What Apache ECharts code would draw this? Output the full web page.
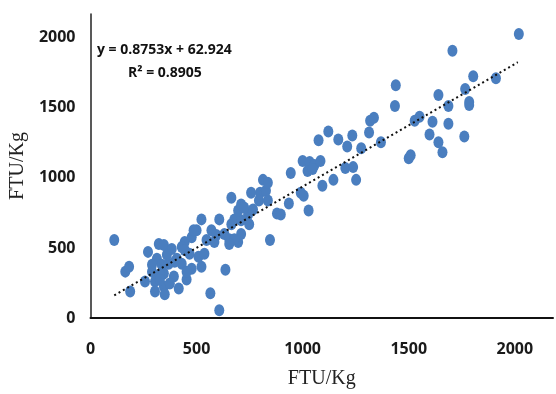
<!DOCTYPE html>
<html>
<head>
<meta charset="utf-8">
<script src="https://cdn.jsdelivr.net/npm/echarts@6/dist/echarts.min.js"></script>
<style>html,body{margin:0;padding:0;background:#fff;}#c{width:556px;height:394px;}</style>
</head>
<body>
<div id="c"></div>
<script>
// Observed points [x FTU/Kg, y FTU/Kg]
const pointsX = [112,164,182,187,271,322,346,383,313,336,369,290,257,304,346,393,304,346,350,416,430,444,477,467,509,477,523,500,523,407,327,374,453,430,290,360,
547,444,397,327,453,664,696,710,486,
570,593,584,607,631,654,678,654,664,678,710,748,537,636,565,607,696,743,766,664,710,724,757,799,827,813,836,794,836,846,879,897,935,991,1005,1028,
944,1000,1033,1056,1084,1023,1047,1201,1238,1252,1145,1093,1121,1075,1168,1234,1210,1276,1313,1318,1336,1369,1439,1435,1528,1551,1612,1687,1598,1640,1659,1762,1500,1509,1640,1687,1766,1785,1785,1804,1911,1706,2019];
const pointsY = [556,331,366,190,472,528,521,493,423,380,387,331,261,261,317,296,190,225,169,211,387,542,577,458,437,352,366,627,704,423,310,246,275,507,380,451,
556,486,401,275,331,556,542,599,627,
627,592,542,704,599,563,563,528,669,704,697,669,458,345,176,56,768,739,775,859,810,789,894,894,908,986,965,838,838,556,746,739,817,894,873,768,
1035,1120,1113,1092,1120,1049,1063,1070,1077,986,986,944,1331,1268,1275,1303,1225,1211,1324,1408,1430,1254,1662,1514,1408,1437,1401,1387,1310,1254,1183,1296,1141,1162,1592,1514,1634,1542,1521,1725,1711,1908,2028];
const slope = 0.8753, intercept = 62.924, r2 = 0.8905;
const trendStartX = 112, trendEndX = 2014;
const axisTicks = [0, 500, 1000, 1500, 2000];
const axisTitle = 'FTU/Kg';

const scatterData = pointsX.map((x, i) => [x, pointsY[i]]);
const trendData = [[trendStartX, slope * trendStartX + intercept], [trendEndX, slope * trendEndX + intercept]];

const chart = echarts.init(document.getElementById('c'), null, {renderer: 'canvas'});
const labelStyle = {fontFamily: 'Open Sans', fontWeight: 700, fontSize: 16, color: '#1a1a1a'};
const fmt = v => axisTicks.indexOf(v) >= 0 ? String(v) : '';
chart.setOption({
  animation: false,
  backgroundColor: '#fff',
  grid: {left: 88, right: 3, top: 14, bottom: 72, containLabel: false},
  xAxis: {
    type: 'value', min: 0, max: 2180, interval: 500,
    name: axisTitle, nameLocation: 'middle', nameGap: 51,
    nameTextStyle: {fontFamily: 'Liberation Serif', fontSize: 20, color: '#222'},
    axisLine: {show: true, lineStyle: {color: '#111', width: 2}},
    axisTick: {show: false}, splitLine: {show: false},
    axisLabel: Object.assign({margin: 23, formatter: fmt}, labelStyle)
  },
  yAxis: {
    type: 'value', min: 0, max: 2170, interval: 500,
    name: axisTitle, nameLocation: 'middle', nameGap: 57,
    nameTextStyle: {fontFamily: 'Liberation Serif', fontSize: 20, color: '#222'},
    axisLine: {show: true, lineStyle: {color: '#222', width: 1.5}},
    axisTick: {show: false}, splitLine: {show: false},
    axisLabel: Object.assign({margin: 15, formatter: fmt, padding: [5, 0, 0, 0]}, labelStyle)
  },
  series: [
    {type: 'scatter', data: scatterData, symbol: 'circle', symbolSize: [10, 12],
     itemStyle: {color: '#4a7ebf', opacity: 1}, z: 2},
    {type: 'line', data: trendData, symbol: 'none', z: 3, silent: true,
     lineStyle: {color: '#111', width: 2, type: [2, 3]}}
  ],
  graphic: [
    {type: 'text', left: 97, top: 43, style: {text: 'y = ' + slope + 'x + ' + intercept, fontFamily: 'Open Sans', fontWeight: 700, fontSize: 14, fill: '#111'}},
    {type: 'text', left: 128, top: 66, style: {text: 'R\u00b2 = ' + r2, fontFamily: 'Open Sans', fontWeight: 700, fontSize: 14, fill: '#111'}}
  ]
});
</script>
</body>
</html>
